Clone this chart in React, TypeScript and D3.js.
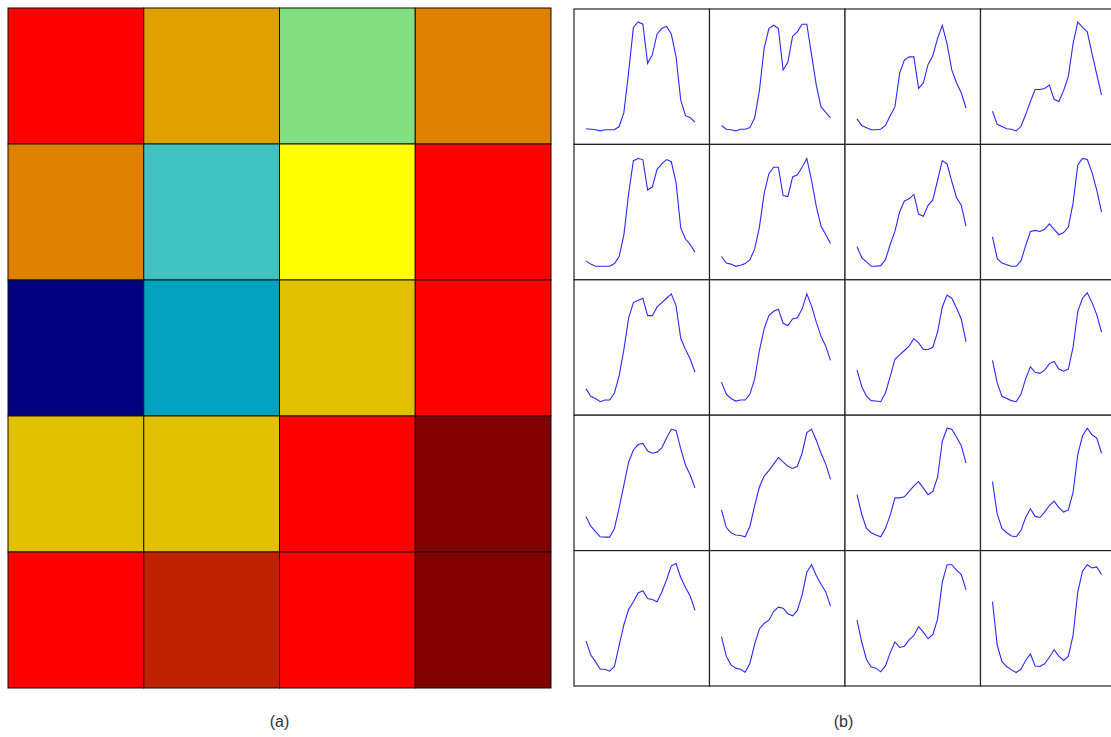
import React, { useEffect, useRef } from "react";
import * as d3 from "d3";

// heat map (a): one value per cell, 5 rows x 4 columns
const heatRows = [
  [0.85, 0.7, 0.5, 0.75],
  [0.75, 0.38, 0.62, 0.85],
  [0.0, 0.3, 0.66, 0.85],
  [0.66, 0.66, 0.85, 1.0],
  [0.85, 0.92, 0.85, 1.0],
];
const heatLevels = [0.0, 0.3, 0.38, 0.5, 0.62, 0.66, 0.7, 0.75, 0.85, 0.92, 1.0];
const heatColors = ["#000080", "#02A2C0", "#42C1C1", "#82E082", "#FFFF00", "#E0C000", "#E0A000", "#E08000", "#FF0000", "#C02000", "#800000"];

// profiles (b): 24 normalised samples per cell, row by row
const profiles = [
  [
    [0.02, 0.015, 0.01, 0, 0.01, 0.01, 0.01, 0.04, 0.17, 0.54, 0.95, 1.0, 0.98, 0.62, 0.7, 0.89, 0.94, 0.96, 0.89, 0.68, 0.28, 0.14, 0.12, 0.08],
    [0.05, 0.015, 0.01, 0, 0.015, 0.015, 0.03, 0.12, 0.37, 0.76, 0.94, 0.97, 0.94, 0.56, 0.63, 0.87, 0.91, 0.98, 0.98, 0.7, 0.42, 0.22, 0.17, 0.12],
    [0.11, 0.05, 0.03, 0.01, 0.01, 0.015, 0.05, 0.14, 0.22, 0.53, 0.65, 0.68, 0.68, 0.39, 0.44, 0.61, 0.69, 0.85, 0.97, 0.8, 0.56, 0.44, 0.35, 0.21],
    [0.18, 0.06, 0.04, 0.02, 0.015, 0, 0.04, 0.15, 0.27, 0.38, 0.38, 0.39, 0.42, 0.29, 0.27, 0.37, 0.5, 0.8, 1.0, 0.95, 0.91, 0.71, 0.52, 0.33],
  ],
  [
    [0.05, 0.02, 0, 0, 0, 0, 0.025, 0.09, 0.29, 0.67, 0.97, 0.99, 0.98, 0.7, 0.73, 0.89, 0.94, 0.98, 0.96, 0.77, 0.35, 0.25, 0.2, 0.13],
    [0.09, 0.03, 0.02, 0, 0.01, 0.025, 0.06, 0.16, 0.36, 0.67, 0.85, 0.91, 0.91, 0.65, 0.64, 0.82, 0.84, 0.91, 0.99, 0.79, 0.55, 0.37, 0.29, 0.21],
    [0.18, 0.08, 0.04, 0, 0, 0.006, 0.06, 0.2, 0.32, 0.5, 0.6, 0.62, 0.66, 0.48, 0.46, 0.56, 0.61, 0.79, 0.97, 0.94, 0.78, 0.63, 0.56, 0.37],
    [0.27, 0.07, 0.03, 0.015, 0, 0, 0.05, 0.19, 0.32, 0.33, 0.32, 0.34, 0.39, 0.34, 0.29, 0.31, 0.36, 0.58, 0.93, 0.99, 0.98, 0.86, 0.7, 0.5],
  ],
  [
    [0.12, 0.05, 0.03, 0, 0.015, 0.015, 0.08, 0.24, 0.48, 0.77, 0.91, 0.93, 0.95, 0.79, 0.79, 0.87, 0.91, 0.95, 0.99, 0.88, 0.58, 0.48, 0.39, 0.27],
    [0.18, 0.07, 0.03, 0.006, 0.015, 0.015, 0.07, 0.21, 0.47, 0.67, 0.79, 0.83, 0.85, 0.72, 0.7, 0.76, 0.77, 0.85, 0.99, 0.88, 0.73, 0.6, 0.51, 0.38],
    [0.29, 0.14, 0.05, 0.01, 0.006, 0, 0.08, 0.23, 0.39, 0.43, 0.47, 0.51, 0.58, 0.54, 0.48, 0.48, 0.5, 0.64, 0.87, 0.98, 0.95, 0.86, 0.76, 0.55],
    [0.38, 0.17, 0.05, 0.03, 0.01, 0, 0.07, 0.21, 0.32, 0.27, 0.26, 0.29, 0.35, 0.37, 0.3, 0.28, 0.3, 0.5, 0.83, 0.95, 1.0, 0.91, 0.8, 0.64],
  ],
  [
    [0.19, 0.1, 0.05, 0.003, 0, 0, 0.08, 0.27, 0.48, 0.69, 0.8, 0.85, 0.86, 0.79, 0.77, 0.78, 0.82, 0.91, 0.99, 0.98, 0.81, 0.66, 0.57, 0.45],
    [0.25, 0.09, 0.04, 0.02, 0.015, 0.003, 0.1, 0.29, 0.46, 0.56, 0.61, 0.67, 0.73, 0.69, 0.65, 0.63, 0.65, 0.77, 0.96, 0.99, 0.89, 0.77, 0.67, 0.53],
    [0.39, 0.21, 0.08, 0.04, 0.02, 0.003, 0.08, 0.2, 0.36, 0.36, 0.37, 0.42, 0.47, 0.51, 0.45, 0.39, 0.42, 0.55, 0.88, 1.0, 0.99, 0.92, 0.84, 0.68],
    [0.51, 0.21, 0.08, 0.04, 0.01, 0.003, 0.06, 0.18, 0.26, 0.19, 0.18, 0.23, 0.29, 0.33, 0.27, 0.23, 0.25, 0.41, 0.76, 0.93, 1.0, 0.94, 0.91, 0.77],
  ],
  [
    [0.29, 0.16, 0.1, 0.03, 0.03, 0.012, 0.055, 0.25, 0.44, 0.58, 0.65, 0.73, 0.75, 0.68, 0.67, 0.65, 0.74, 0.85, 0.98, 1.0, 0.87, 0.78, 0.7, 0.57],
    [0.33, 0.15, 0.07, 0.04, 0.03, 0.003, 0.085, 0.26, 0.4, 0.45, 0.48, 0.56, 0.6, 0.59, 0.54, 0.52, 0.57, 0.71, 0.92, 0.99, 0.89, 0.81, 0.74, 0.61],
    [0.48, 0.28, 0.12, 0.05, 0.04, 0.006, 0.06, 0.18, 0.28, 0.23, 0.24, 0.3, 0.34, 0.42, 0.37, 0.31, 0.35, 0.49, 0.83, 0.99, 0.99, 0.94, 0.9, 0.76],
    [0.65, 0.25, 0.1, 0.055, 0.024, 0, 0.03, 0.11, 0.17, 0.06, 0.055, 0.08, 0.14, 0.21, 0.15, 0.11, 0.15, 0.34, 0.74, 0.93, 0.99, 0.96, 0.97, 0.9],
  ],
];

const panelLabels = ["(a)", "(b)"];

const W = 1111;
const H = 737;

export default function App() {
  const ref = useRef<SVGSVGElement>(null);

  useEffect(() => {
    const svg = d3.select(ref.current);
    svg.selectAll("*").remove();

    // ---- (a) heat map
    const color = d3.scaleOrdinal<number, string>().domain(heatLevels).range(heatColors);
    const ax = d3.scaleBand<number>().domain(d3.range(4)).range([8, 551]);
    const ay = d3.scaleBand<number>().domain(d3.range(5)).range([8, 688]);

    const ga = svg.append("g");
    heatRows.forEach((row, r) => {
      ga.selectAll(null)
        .data(row)
        .enter()
        .append("rect")
        .attr("x", (_, c) => ax(c)!)
        .attr("y", ay(r)!)
        .attr("width", ax.bandwidth())
        .attr("height", ay.bandwidth())
        .attr("fill", d => color(d))
        .attr("stroke", "#111")
        .attr("stroke-width", 1);
    });

    // ---- (b) profile grid
    const bx = d3.scaleBand<number>().domain(d3.range(4)).range([574, 1116]);
    const by = d3.scaleBand<number>().domain(d3.range(5)).range([9, 686]);
    const gb = svg.append("g");

    profiles.forEach((row, r) => {
      row.forEach((vals, c) => {
        const x0 = bx(c)!;
        const y0 = by(r)!;
        const cw = bx.bandwidth();
        const ch = by.bandwidth();
        gb.append("rect")
          .attr("x", x0)
          .attr("y", y0)
          .attr("width", cw)
          .attr("height", ch)
          .attr("fill", "#fff")
          .attr("stroke", "#222")
          .attr("stroke-width", 1.2);

        const sx = d3.scaleLinear().domain([0, vals.length - 1]).range([x0 + 12, x0 + 121]);
        const sy = d3.scaleLinear().domain([0, 1]).range([y0 + ch - 13.5, y0 + 13]);
        const line = d3.line<number>()
          .x((_, i) => sx(i))
          .y(d => sy(d));
        gb.append("path")
          .attr("d", line(vals))
          .attr("fill", "none")
          .attr("stroke", "#2a2aff")
          .attr("stroke-width", 1.1);
      });
    });

    // ---- panel labels
    svg.selectAll("text.lbl")
      .data(panelLabels)
      .enter()
      .append("text")
      .attr("class", "lbl")
      .attr("x", (_, i) => (i === 0 ? (8 + 551) / 2 : (574 + 1113) / 2))
      .attr("y", 727)
      .attr("text-anchor", "middle")
      .style("font-family", "'Liberation Sans', Arial, sans-serif")
      .style("font-size", "16px")
      .style("fill", "#333")
      .text(d => d);
  }, []);

  return (
    <svg
      ref={ref}
      width={W}
      height={H}
      style={{ position: "absolute", left: 0, top: 0, background: "#fff" }}
    />
  );
}
